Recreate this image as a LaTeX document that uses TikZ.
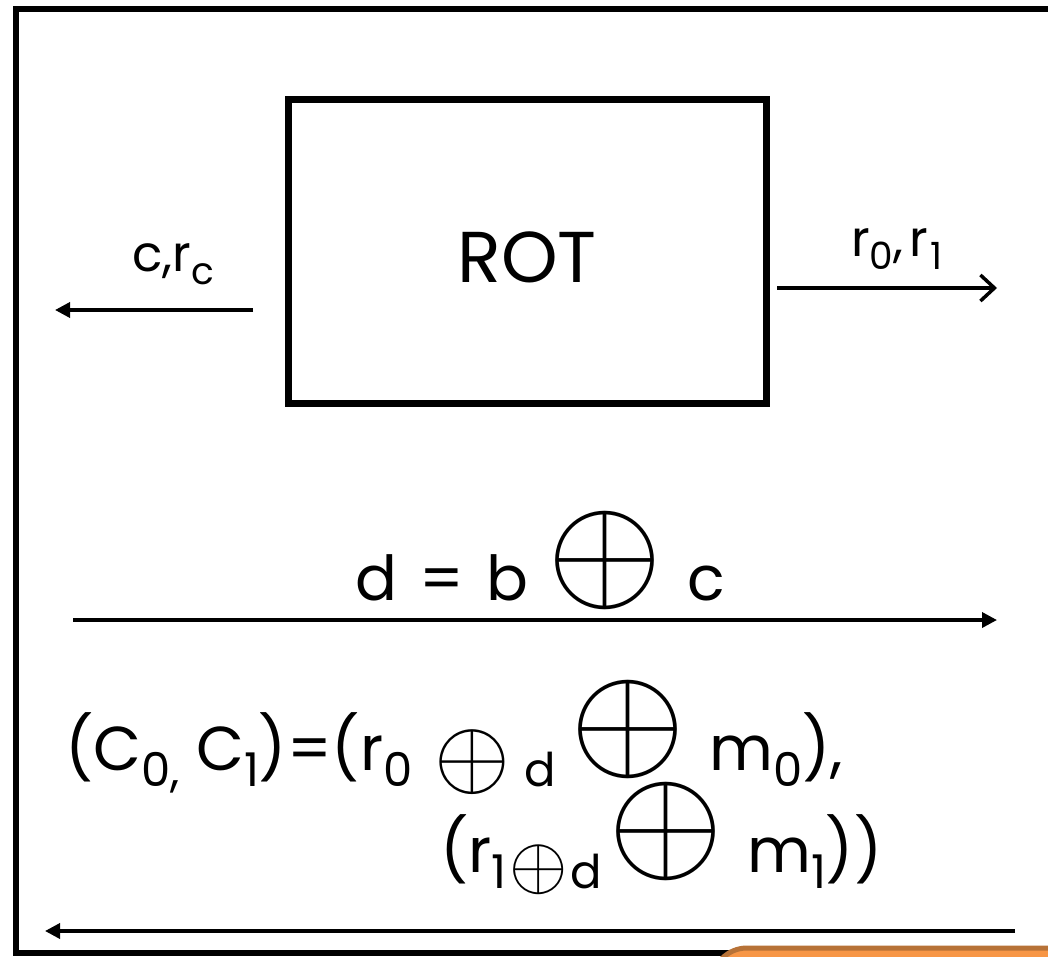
\documentclass[tikz,border=0pt]{standalone}
\usepackage{fontspec}
\usepackage{graphicx}
\setmainfont{Poppins}
\usetikzlibrary{arrows.meta}
\definecolor{slideorange}{RGB}{247,150,70}
\definecolor{slidebrown}{RGB}{183,114,55}
% lowered index and circled plus
\newcommand{\lo}[1]{\raisebox{-0.26em}{\scalebox{0.75}{#1}}}
\newcommand{\xo}[1]{\scalebox{#1}{\fontsize{10}{12}\selectfont$\oplus$}}
\begin{document}
\begin{tikzpicture}[x=1pt, y=-1pt, >={Triangle[length=15pt,width=15pt]},
    arr/.style={->, line width=3.5pt},
    lbl/.style={font=\fontsize{50}{56}\selectfont, inner sep=0pt},
    big/.style={font=\fontsize{62}{72}\selectfont, inner sep=0pt}]
  \useasboundingbox (0,0) rectangle (1048,957);
  \clip (0,0) rectangle (1048,957);
  \draw[line width=6pt] (16,9) rectangle (1080,953);
  \draw[line width=5pt, draw=slidebrown, fill=slideorange, rounded corners=35pt] (712,948) rectangle (1120,1100);
  \node[draw, line width=7pt, minimum width=478pt, minimum height=303pt, inner sep=0pt] (rot) at (527,251.5) {};
  \node[font=\fontsize{72}{80}\selectfont, inner sep=0pt] (rottxt) at (527,257) {ROT};
  % left and right outputs
  \coordinate (cin) at (253,310);
  \coordinate (cout) at (55,310);
  \coordinate (rin) at (777,288);
  \coordinate (rout) at (997,288);
  \draw[arr] (cin) -- (cout);
  \draw[line width=3.5pt, -{Straight Barb[length=14pt,width=26pt]}] (rin) -- (rout);
  \node[lbl, anchor=base] (clbl) at (173,272) {c,r\lo{c}};
  \node[lbl, anchor=base] (rlbl) at (897,257) {r\lo{0},\hspace{6pt}r\hspace{3pt}\lo{1}};
  % d message
  \coordinate (din) at (73,620);
  \coordinate (dout) at (997,620);
  \draw[arr] (din) -- (dout);
  \node[big, anchor=base] (dlbl) at (540,600)
    {d\hspace{22pt}=\hspace{22pt}b\hspace{20pt}\raisebox{2pt}{\xo{14.8}}\hspace{24pt}c};
  % ciphertexts
  \node[big, anchor=base west] (cone) at (65,770)
    {(C\lo{0,} C\lo{1})=(r\lo{0\hspace{30pt}\xo{13}\hspace{18pt}d}\hspace{15pt}\raisebox{4pt}{\xo{14.8}}\hspace{24pt}m\lo{0}),};
  \node[big, anchor=base west] (ctwo) at (440,872)
    {(r\lo{1\hspace{4pt}\xo{10}\hspace{4pt}d}\hspace{6pt}\raisebox{4pt}{\xo{14.8}}\hspace{24pt}m\lo{1}))};
  \coordinate (ein) at (1015,931);
  \coordinate (eout) at (45,931);
  \draw[arr] (ein) -- (eout);
\end{tikzpicture}
\end{document}
